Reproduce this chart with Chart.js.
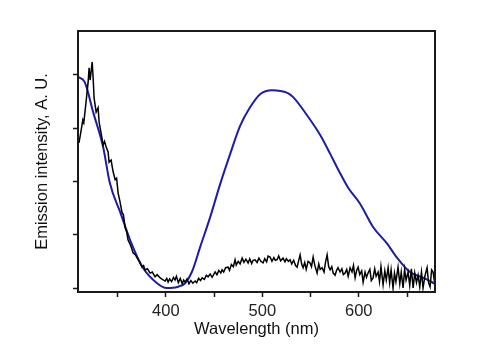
<!DOCTYPE html>
<html>
<head>
<meta charset="utf-8">
<script src="https://cdn.jsdelivr.net/npm/chart.js@4"></script>
<style>
  html, body { margin: 0; padding: 0; background: #fff; }
  #wrap { width: 500px; height: 349px; }
</style>
</head>
<body>
<div id="wrap"><canvas id="emission"></canvas></div>
<script>
// Fitted emission band (blue)
const fitNm  = [309, 316, 325, 335, 342, 353, 363, 376, 391, 401, 412, 420, 427, 436, 446, 456, 467, 477, 487, 498, 510, 526, 532, 546, 560, 570, 579, 589, 601, 615, 629, 640, 653, 667, 679];
const fitVal = [3.96, 3.86, 3.28, 2.65, 1.97, 1.41, 0.90, 0.39, 0.09, 0.00, 0.02, 0.09, 0.30, 0.79, 1.33, 1.93, 2.53, 3.04, 3.38, 3.64, 3.71, 3.66, 3.58, 3.25, 2.87, 2.53, 2.21, 1.88, 1.59, 1.14, 0.84, 0.56, 0.30, 0.19, 0.08];

// Measured spectrum (black, noisy)
const measNm = [310, 312, 314, 315, 317, 319.5, 320.5, 321.6, 323.7, 324.7, 325.7, 327.8, 329.8, 330.9, 332.9, 335, 336.5, 338.1, 340.2, 341.2,
  343.3, 345.4, 347.5, 349, 350.6, 352.5, 354.7, 356, 357.8, 359.5, 360.9, 363.5, 366.1, 368.5, 371.3, 373, 375.4, 377, 378.5, 381,
  383.7, 386, 388.9, 391, 394.1, 396.5, 399.3, 401, 402.4, 404, 406, 408, 409.6, 411, 413, 415, 417, 418.5, 420, 422,
  424, 426, 428, 430.4, 432, 434, 436, 437.6, 440, 442, 443.8, 446, 448, 451.1, 453, 455, 457, 458.3, 460, 462,
  464.6, 466, 468, 470, 471.8, 473, 475, 477, 479.1, 481, 483, 485.3, 487, 489, 490.5, 492.5, 494.6, 496.5, 498.5, 500.8,
  502.5, 504.5, 506, 508.1, 510, 512, 513.5, 515.3, 517, 519, 521.5, 523.5, 525, 527, 528.8, 530.5, 532.5, 534.5, 536.1, 537.5,
  539.2, 540.8, 542.3, 544, 545.5, 547.5, 549.5, 551, 552.7, 554.5, 556.8, 558.5, 560, 562, 564, 565.5, 567.2, 568.8, 570.3, 572,
  573.5, 575.4, 577, 578.5, 580.6, 582.5, 584, 585.8, 587.5, 589, 591, 593, 594.5, 596.2, 597.8, 599.3, 601, 603, 604.5, 606.5,
  608, 609.6, 611.5, 613, 614.8, 616.5, 618, 620, 621.5, 623, 625.2, 627, 628.5, 630.4, 632, 633.5, 635.5, 637, 638.5, 640.7,
  642.5, 644, 645.9, 647.5, 649, 651.1, 652.8, 654.5, 656.3, 658, 659.8, 661.5, 663.2, 665, 666.6, 668.5, 670.8, 672.3, 673.9, 675.5,
  677, 678.5];
const measVal = [2.72, 2.93, 3.15, 3.10, 3.43, 3.86, 4.13, 3.90, 4.24, 3.94, 3.56, 3.30, 3.38, 3.11, 2.91, 2.68, 2.75, 2.65, 2.55, 2.36,
  2.40, 2.18, 2.03, 2.06, 1.78, 1.62, 1.41, 1.38, 1.14, 1.05, 0.90, 0.80, 0.66, 0.62, 0.53, 0.48, 0.39, 0.42, 0.34, 0.36,
  0.28, 0.30, 0.21, 0.25, 0.19, 0.16, 0.13, 0.18, 0.11, 0.17, 0.12, 0.20, 0.15, 0.22, 0.10, 0.18, 0.08, 0.15, 0.11, 0.17,
  0.08, 0.14, 0.09, 0.13, 0.10, 0.18, 0.14, 0.19, 0.16, 0.24, 0.21, 0.26, 0.20, 0.30, 0.25, 0.33, 0.28, 0.34, 0.30, 0.38,
  0.39, 0.33, 0.44, 0.40, 0.53, 0.43, 0.50, 0.45, 0.56, 0.48, 0.54, 0.47, 0.55, 0.46, 0.52, 0.53, 0.48, 0.56, 0.50, 0.47,
  0.55, 0.49, 0.60, 0.58, 0.50, 0.57, 0.52, 0.53, 0.60, 0.51, 0.56, 0.49, 0.55, 0.50, 0.53, 0.45, 0.52, 0.42, 0.39, 0.50,
  0.62, 0.45, 0.38, 0.48, 0.35, 0.50, 0.47, 0.40, 0.58, 0.42, 0.28, 0.45, 0.35, 0.38, 0.30, 0.48, 0.62, 0.40, 0.34, 0.40,
  0.28, 0.24, 0.33, 0.38, 0.30, 0.36, 0.25, 0.28, 0.35, 0.22, 0.38, 0.30, 0.42, 0.19, 0.33, 0.39, 0.25, 0.32, 0.11, 0.30,
  0.20, 0.28, 0.35, 0.14, 0.19, 0.36, 0.22, 0.30, 0.12, 0.40, 0.06, 0.32, 0.15, 0.38, 0.10, 0.34, 0.00, 0.28, 0.12, 0.39,
  0.08, 0.30, 0.00, 0.35, 0.15, 0.30, 0.05, 0.36, 0.00, 0.28, 0.10, 0.24, 0.02, 0.30, 0.00, 0.22, 0.38, 0.10, 0.02, 0.34,
  0.30, 0.11];

const xTicks = [350, 400, 450, 500, 550, 600, 650];
const xLabelled = [400, 500, 600];
const yTicks = [0, 1, 2, 3, 4];

const toPoints = (xs, ys) => xs.map((x, i) => ({ x: x, y: ys[i] }));

// draws the closed frame around the plot
const frameBox = {
    id: 'frameBox',
    afterDatasetsDraw(chart) {
        const { ctx, chartArea } = chart;
        ctx.save();
        ctx.strokeStyle = '#1a1a1a';
        ctx.lineWidth = 2;
        ctx.strokeRect(chartArea.left, chartArea.top, chartArea.right - chartArea.left, chartArea.bottom - chartArea.top);
        ctx.restore();
    }
};

const axisFont = { family: 'Liberation Sans, Arial, sans-serif', size: 16.5 };

new Chart(document.getElementById('emission'), {
    type: 'line',
    data: {
        datasets: [
            {
                label: 'measured',
                data: toPoints(measNm, measVal),
                borderColor: '#000000',
                borderWidth: 1.5,
                pointRadius: 0,
                tension: 0
            },
            {
                label: 'fit',
                data: toPoints(fitNm, fitVal),
                borderColor: '#1c1ca6',
                borderWidth: 2,
                pointRadius: 0,
                tension: 0.4,
                cubicInterpolationMode: 'monotone'
            }
        ]
    },
    options: {
        responsive: true,
        maintainAspectRatio: false,
        animation: false,
        layout: { padding: { top: 31, right: 65, bottom: 0, left: 0 } },
        plugins: { legend: { display: false }, tooltip: { enabled: false } },
        scales: {
            x: {
                type: 'linear',
                min: 309,
                max: 679,
                afterBuildTicks: (scale) => { scale.ticks = xTicks.map(v => ({ value: v })); },
                afterFit: (scale) => { scale.height = 57; },
                ticks: {
                    color: '#222',
                    font: axisFont,
                    padding: 5,
                    maxRotation: 0,
                    autoSkip: false,
                    callback: (v) => xLabelled.includes(v) ? String(v) : ''
                },
                grid: { drawOnChartArea: false, drawTicks: true, tickLength: 5, color: '#1a1a1a', tickWidth: 1.5 },
                border: { display: true, color: '#1a1a1a', width: 2 },
                title: { display: true, text: 'Wavelength (nm)', color: '#111', font: axisFont, padding: { top: 10, bottom: 10 } }
            },
            y: {
                min: -0.075,
                max: 4.82,
                afterBuildTicks: (scale) => { scale.ticks = yTicks.map(v => ({ value: v })); },
                afterFit: (scale) => { scale.width = 78; },
                ticks: { display: false },
                grid: { drawOnChartArea: false, drawTicks: true, tickLength: 5, color: '#1a1a1a', tickWidth: 1.5 },
                border: { display: true, color: '#1a1a1a', width: 2 },
                title: { display: true, text: 'Emission intensity, A. U.', color: '#111', font: axisFont, padding: { top: 33, bottom: 0 } }
            }
        }
    },
    plugins: [frameBox]
});
</script>
</body>
</html>
